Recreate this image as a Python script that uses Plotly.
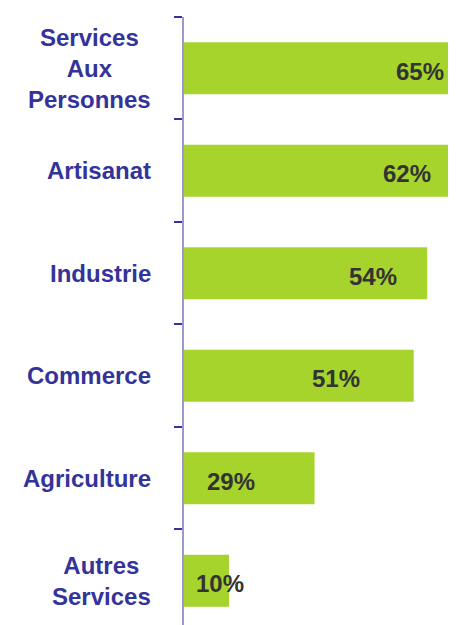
import plotly.graph_objects as go

# données
categories = ["Services<br>Aux<br>Personnes", "Artisanat", "Industrie", "Commerce",
              "Agriculture", "Autres<br>Services"]
values = [65, 62, 54, 51, 29, 10]
value_labels = [f"{v}%" for v in values]

label_x = [52.4, 49.6, 42.0, 33.8, 10.4, 8.0]

BLUE = "#333399"
FONT = "Liberation Sans"

fig = go.Figure(go.Bar(
    x=values, y=categories, orientation="h", width=0.507,
    marker=dict(color="#a6d32c", line=dict(width=0)),
    hoverinfo="skip",
))

# libellés des catégories, centrés ligne par ligne
for cat in categories:
    fig.add_annotation(x=0, xref="paper", y=cat, yref="y", text=cat,
                       xanchor="right", yanchor="middle", xshift=-31, align="center",
                       showarrow=False,
                       font=dict(family=FONT, size=24, color=BLUE, weight="bold"))

# valeurs dans les barres
for cat, lx, lab in zip(categories, label_x, value_labels):
    fig.add_annotation(x=lx, y=cat, text=lab, showarrow=False, yshift=-3,
                       xanchor="center", yanchor="middle",
                       font=dict(family=FONT, size=24, color="#333333", weight="bold"))

# la page a une marge de 8 px : la figure est réduite d'autant
fig.update_layout(
    width=448, height=617,
    margin=dict(l=176, r=0, t=9, b=0),
    plot_bgcolor="white", paper_bgcolor="white",
    showlegend=False,
    xaxis=dict(range=[0, 60.4], visible=False, showgrid=False, zeroline=False),
    yaxis=dict(type="category", categoryorder="array", categoryarray=categories,
               range=[5.432, -0.5], showticklabels=False, showgrid=False,
               showline=True, linecolor="#9999cc", linewidth=2,
               ticks="outside", tickson="boundaries", ticklen=8, tickwidth=1.5,
               tickcolor=BLUE, zeroline=False),
)

fig.write_html("out.html")
